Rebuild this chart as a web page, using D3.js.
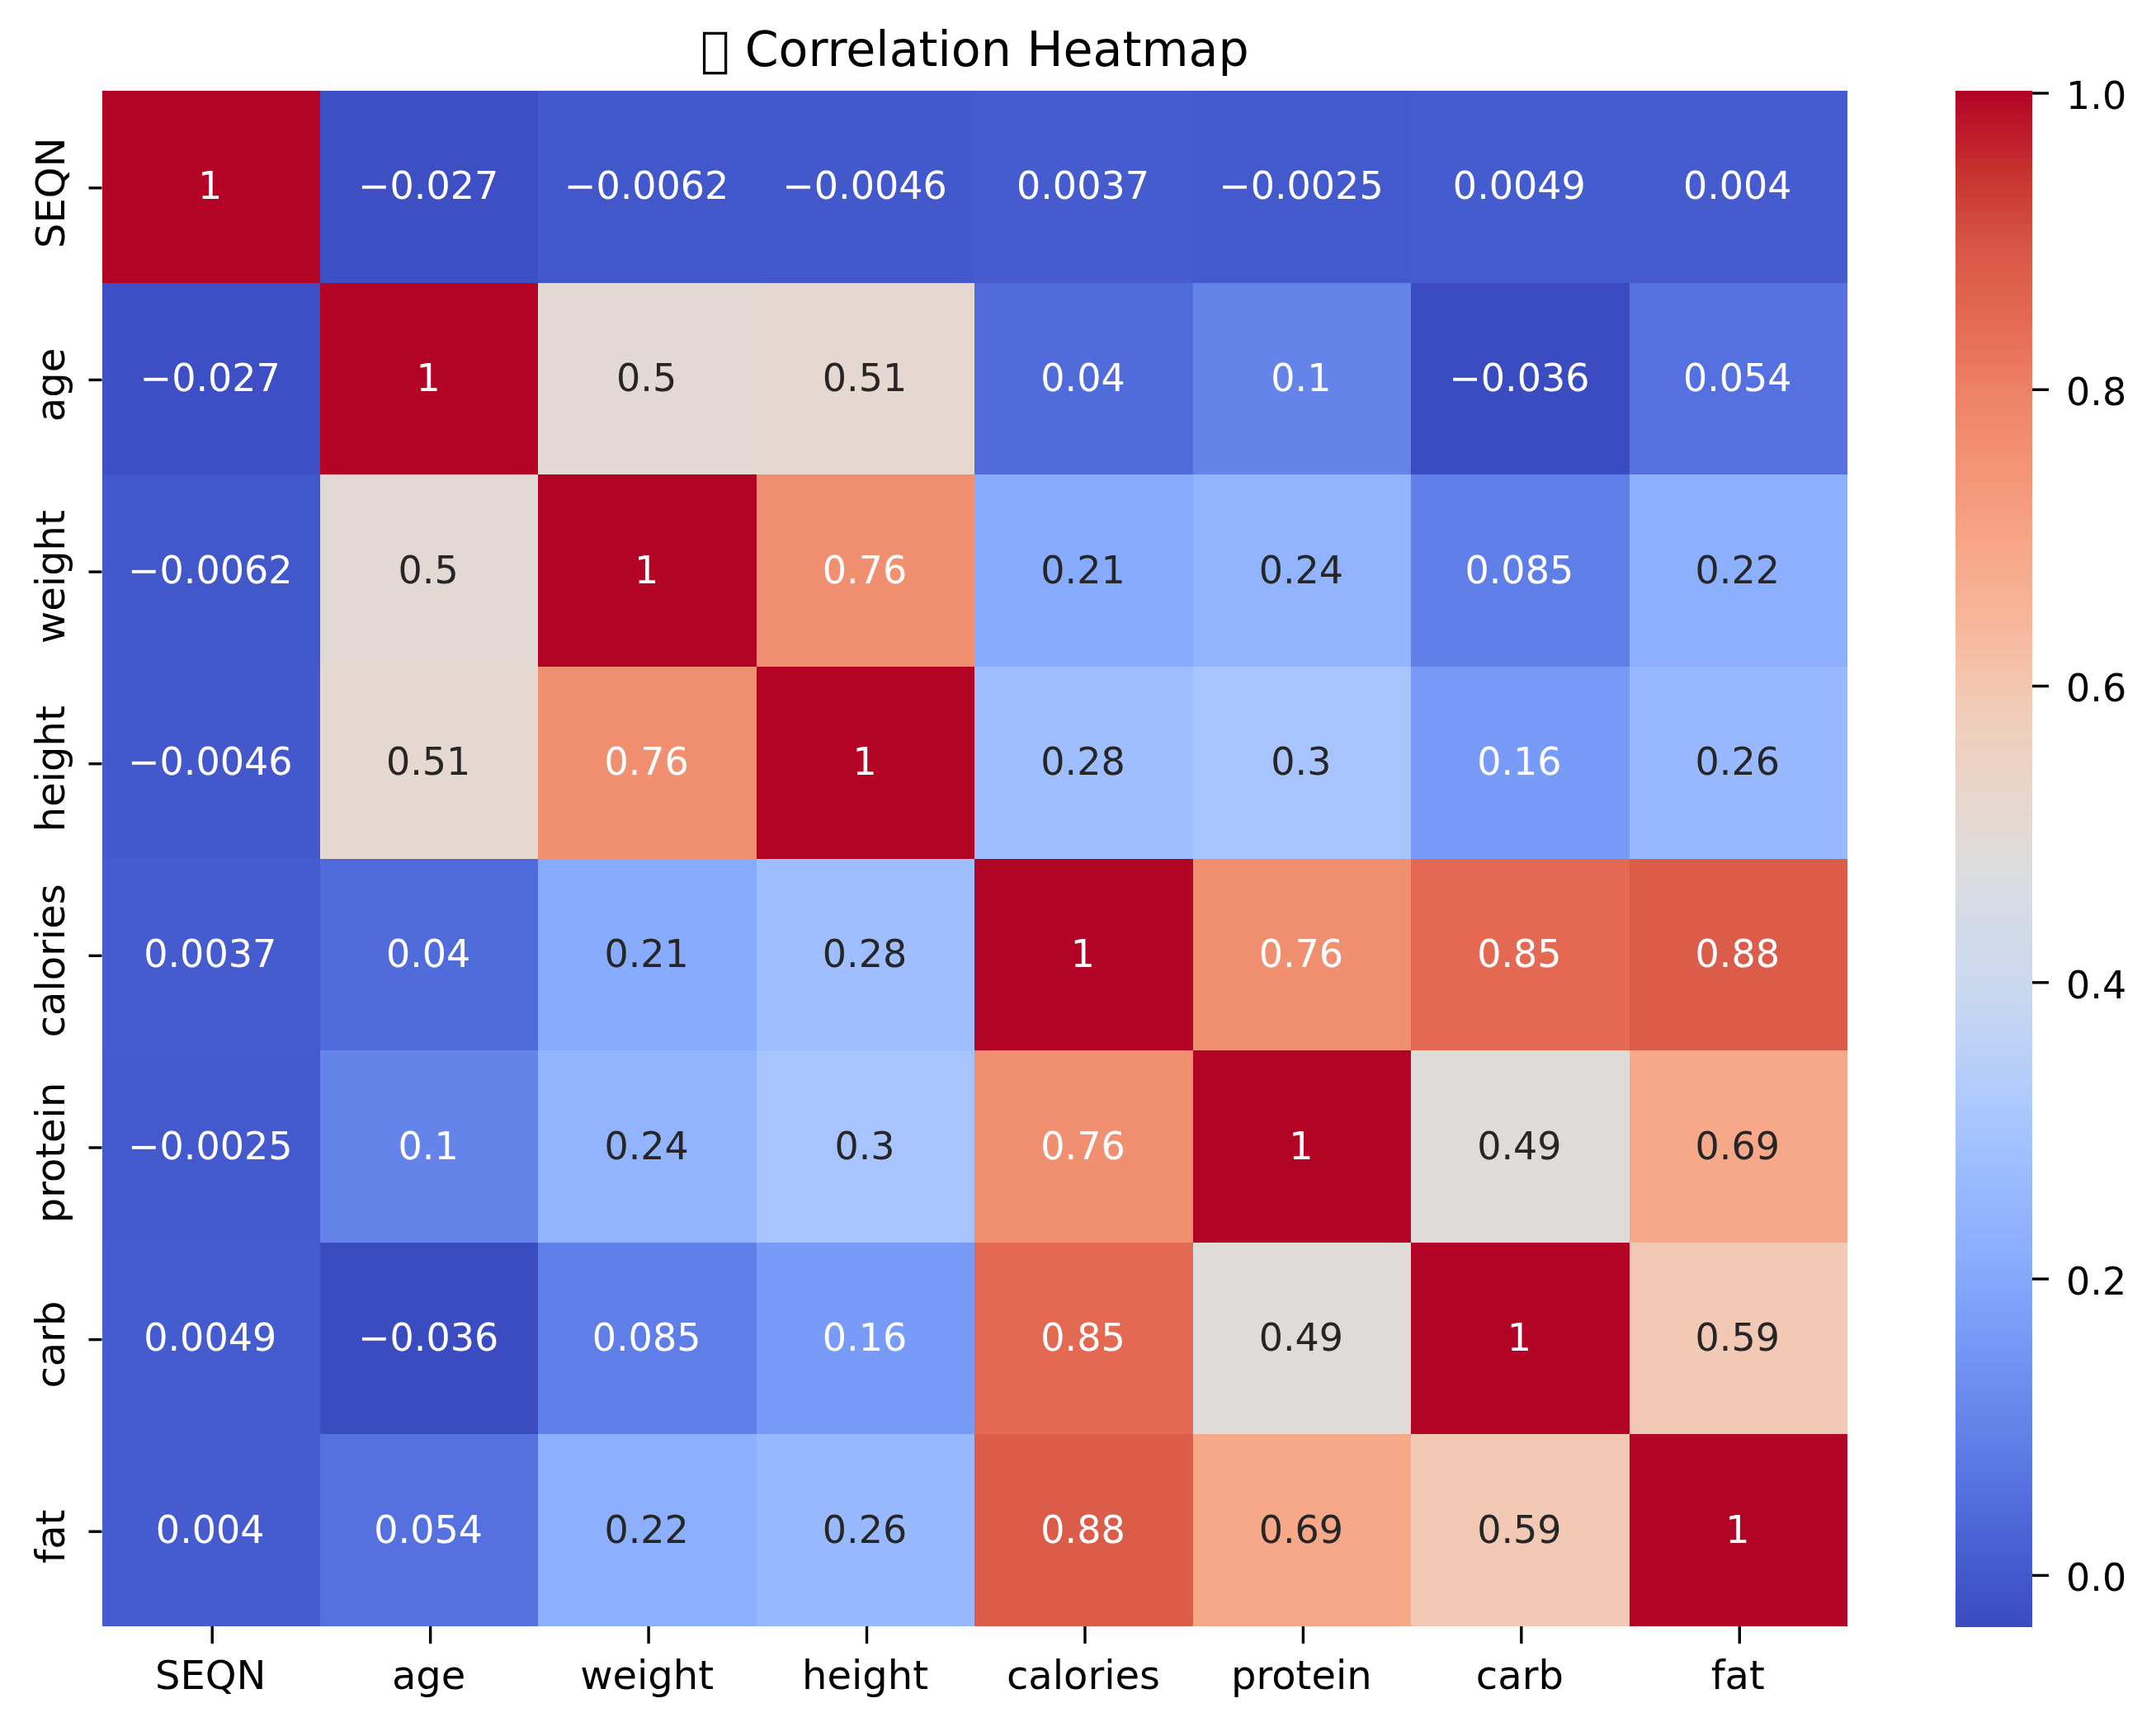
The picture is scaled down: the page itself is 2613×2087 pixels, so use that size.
<!DOCTYPE html>
<html>
<head>
<meta charset="utf-8">
<script src="https://cdn.jsdelivr.net/npm/d3@7"></script>
<style>
  html, body { margin: 0; padding: 0; background: #fff; }
  svg { display: block; filter: blur(0.7px); }
  text { font-family: "DejaVu Sans", sans-serif; }
  .axis path { display: none; }
  .axis line { stroke: #000; stroke-width: 3.4; }
  .axis text { fill: #000; font-size: 48px; }
  .bar-axis text { font-size: 46px; }
</style>
</head>
<body>
<div id="chart"></div>
<script>
var titleText = "\uE000 Correlation Heatmap";
var labels = ["SEQN", "age", "weight", "height", "calories", "protein", "carb", "fat"];

var seqnRow     = [1, -0.027, -0.0062, -0.0046, 0.0037, -0.0025, 0.0049, 0.004];
var ageRow      = [-0.027, 1, 0.5, 0.51, 0.04, 0.1, -0.036, 0.054];
var weightRow   = [-0.0062, 0.5, 1, 0.76, 0.21, 0.24, 0.085, 0.22];
var heightRow   = [-0.0046, 0.51, 0.76, 1, 0.28, 0.3, 0.16, 0.26];
var caloriesRow = [0.0037, 0.04, 0.21, 0.28, 1, 0.76, 0.85, 0.88];
var proteinRow  = [-0.0025, 0.1, 0.24, 0.3, 0.76, 1, 0.49, 0.69];
var carbRow     = [0.0049, -0.036, 0.085, 0.16, 0.85, 0.49, 1, 0.59];
var fatRow      = [0.004, 0.054, 0.22, 0.26, 0.88, 0.69, 0.59, 1];
var rows = [seqnRow, ageRow, weightRow, heightRow, caloriesRow, proteinRow, carbRow, fatRow];

var colorbarTicks = [0, 0.2, 0.4, 0.6, 0.8, 1];
var vmin = -0.036;
var vmax = 1;

// matplotlib coolwarm, sampled every 0.05
var coolwarm = ["#3b4cc0", "#4860d2", "#5977e3", "#6a8bee", "#7b9ff9", "#8db0fe", "#9dbdff",
                "#b1cbfc", "#c5d6f2", "#d1dae9", "#dddcdc", "#ead4c8", "#f2cbb7", "#f7b89c",
                "#f7a889", "#f39677", "#ee8468", "#e56b53", "#d75645", "#c7312f", "#b40426"];

var width = 2613, height = 2087;
var heat = { left: 123.5, right: 2239, top: 110, bottom: 1971 };
var bar = { left: 2370, right: 2463 };

var svg = d3.select("#chart").append("svg")
  .attr("width", width)
  .attr("height", height);

var x = d3.scaleBand().domain(labels).range([heat.left, heat.right]);
var y = d3.scaleBand().domain(labels).range([heat.top, heat.bottom]);

var interp = d3.scaleLinear()
  .domain(d3.range(coolwarm.length).map(function(i){ return i / (coolwarm.length - 1); }))
  .range(coolwarm)
  .interpolate(d3.interpolateRgb);

var color = function(v){
  return interp((v - vmin) / (vmax - vmin));
};

// same rule seaborn uses to pick the annotation colour
var luminance = function(c){
  var rgb = d3.rgb(c);
  var f = function(u){
    u = u / 255;
    return u <= 0.03928 ? u / 12.92 : Math.pow((u + 0.055) / 1.055, 2.4);
  };
  return 0.2126 * f(rgb.r) + 0.7152 * f(rgb.g) + 0.0722 * f(rgb.b);
};

var fmt = d3.format(".2~r");

var cells = [];
rows.forEach(function(row, i){
  row.forEach(function(v, j){
    cells.push({ row: labels[i], col: labels[j], value: v });
  });
});

svg.append("g").selectAll("rect")
  .data(cells)
  .enter().append("rect")
  .attr("x", function(d){ return x(d.col); })
  .attr("y", function(d){ return y(d.row); })
  .attr("width", x.bandwidth())
  .attr("height", y.bandwidth())
  .attr("shape-rendering", "crispEdges")
  .attr("fill", function(d){ return color(d.value); });

svg.append("g").selectAll("text")
  .data(cells)
  .enter().append("text")
  .attr("x", function(d){ return x(d.col) + x.bandwidth() / 2 - 1; })
  .attr("y", function(d){ return y(d.row) + y.bandwidth() / 2; })
  .attr("dy", "0.33em")
  .attr("text-anchor", "middle")
  .attr("font-size", 46)
  .attr("fill", function(d){ return luminance(color(d.value)) > 0.408 ? "#262626" : "#fff"; })
  .text(function(d){ return fmt(d.value); });

// Axes
svg.append("g")
  .attr("class", "axis x-axis")
  .attr("transform", "translate(1.5," + heat.bottom + ")")
  .call(d3.axisBottom(x).tickSize(21).tickPadding(21))
  .selectAll("text")
  .attr("dx", "-2");

svg.append("g")
  .attr("class", "axis y-axis")
  .attr("transform", "translate(" + heat.left + ",1.5)")
  .call(d3.axisLeft(y).tickSize(16).tickPadding(30))
  .selectAll("text")
  .attr("transform", function(){
    return "rotate(-90," + d3.select(this).attr("x") + ",0)";
  })
  .attr("text-anchor", "middle")
  .attr("dx", "-6")
  .attr("dy", "0");

// Colour bar
var barY = d3.scaleLinear().domain([vmin, vmax]).range([heat.bottom, heat.top]);
var levels = d3.range(256).map(function(i){ return vmin + (vmax - vmin) * i / 255; });
var levelH = (heat.bottom - heat.top) / 256;

svg.append("g").selectAll("rect")
  .data(levels)
  .enter().append("rect")
  .attr("x", bar.left)
  .attr("width", bar.right - bar.left)
  .attr("y", function(d, i){ return heat.bottom - (i + 1) * levelH; })
  .attr("height", levelH + 0.6)
  .attr("shape-rendering", "crispEdges")
  .attr("fill", function(d){ return color(d); });

svg.append("g")
  .attr("class", "axis bar-axis")
  .attr("transform", "translate(" + bar.right + ",2.5)")
  .call(d3.axisRight(barY).tickValues(colorbarTicks).tickFormat(d3.format(".1f")).tickSize(20).tickPadding(21))
  .selectAll("text")
  .attr("dy", "0.41em");

// Title
svg.append("text")
  .attr("x", (heat.left + heat.right) / 2)
  .attr("y", 80)
  .attr("text-anchor", "middle")
  .attr("font-size", 58.6)
  .attr("fill", "#000")
  .text(titleText);
</script>
</body>
</html>
